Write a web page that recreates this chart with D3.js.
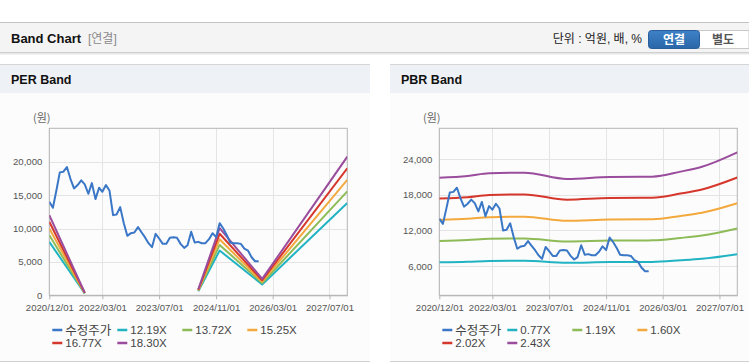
<!DOCTYPE html>
<html>
<head>
<meta charset="utf-8">
<script src="https://cdn.jsdelivr.net/npm/d3@7"></script>
<style>
  html, body { margin: 0; padding: 0; background: #fff; }
  svg { display: block; font-family: "Liberation Sans", Arial, "Noto Sans CJK KR", sans-serif; }
</style>
</head>
<body>
<div id="chart"></div>
<script>
// adjusted price, monthly from 2020/12
const priceStart = "2020-12-01";
const priceValues = [14000, 13100, 15800, 18400, 18500, 19200, 17400, 16000, 16500, 17200,
  16600, 15200, 16800, 14400, 16100, 15500, 16500, 15700, 12000, 12100,
  13200, 10800, 8900, 9300, 9400, 10200, 9400, 8700, 7800, 7200,
  9200, 8500, 7700, 7700, 8600, 8700, 8600, 7700, 7100, 7500,
  9500, 7900, 8000, 7800, 7800, 8400, 9300, 8700, 10800, 10000,
  9000, 7900, 7800, 7800, 7700, 7000, 6700, 5700, 5100, 5100];

// PER band (null = gap)
const perDates = ["2020-12-01", "2021-10-01", "2021-11-01", "2024-06-01", "2024-12-01", "2025-12-01", "2027-12-01"];
const per1219 = [8000, 270, null, 600, 6700, 1630, 13820];
const per1372 = [9000, 300, null, 680, 7540, 1840, 15560];
const per1525 = [10000, 330, null, 750, 8380, 2040, 17290];
const per1677 = [11000, 370, null, 830, 9210, 2250, 19020];
const per1830 = [12000, 400, null, 900, 10050, 2450, 20750];
const perNames = ["수정주가", "12.19X", "13.72X", "15.25X", "16.77X", "18.30X"];

// PBR band
const pbrDates = ["2020-12-01", "2021-08-01", "2022-02-01", "2022-12-01", "2023-12-01", "2024-12-01", "2025-12-01", "2026-08-01", "2027-02-01", "2027-12-01"];
const pbr077 = [6620, 6710, 6850, 6890, 6550, 6660, 6680, 6950, 7210, 7980];
const pbr119 = [10230, 10380, 10590, 10650, 10130, 10290, 10320, 10730, 11140, 12330];
const pbr160 = [13760, 13950, 14240, 14320, 13620, 13840, 13870, 14430, 14980, 16580];
const pbr202 = [17370, 17610, 17980, 18080, 17190, 17470, 17510, 18220, 18910, 20930];
const pbr243 = [20900, 21190, 21630, 21750, 20680, 21020, 21070, 21920, 22750, 25180];
const pbrNames = ["수정주가", "0.77X", "1.19X", "1.60X", "2.02X", "2.43X"];

const xTicks = ["2020-12-01", "2022-03-01", "2023-07-01", "2024-11-01", "2026-03-01", "2027-07-01"];
const perYTicks = [0, 5000, 10000, 15000, 20000];
const pbrYTicks = [6000, 12000, 18000, 24000];

const colors = ["#3a77c6", "#22b3c3", "#8dbb57", "#f3a93e", "#d6372c", "#9a4d9c"];

const W = 749, H = 364;
const parse = d3.utcParse("%Y-%m-%d");
const fmtDate = d3.utcFormat("%Y/%m/%d");
const fmtNum = d3.format(",");

const svg = d3.select("#chart").append("svg")
  .attr("width", W).attr("height", H);

// top header bar
svg.append("rect").attr("x", 0).attr("y", 22).attr("width", W).attr("height", 31).attr("fill", "#f4f4f4");
svg.append("line").attr("x1", 0).attr("x2", W).attr("y1", 22.5).attr("y2", 22.5).attr("stroke", "#c4c4c4");
svg.append("line").attr("x1", 0).attr("x2", W).attr("y1", 52.5).attr("y2", 52.5).attr("stroke", "#cfcfcf");
svg.append("line").attr("x1", 0).attr("x2", W).attr("y1", 53.5).attr("y2", 53.5).attr("stroke", "#e6e6e6");
svg.append("line").attr("x1", 0).attr("x2", W).attr("y1", 54.5).attr("y2", 54.5).attr("stroke", "#f3f3f3");

svg.append("text").attr("x", 11).attr("y", 42.5)
  .attr("font-size", 13).attr("font-weight", "bold").attr("fill", "#111")
  .text("Band Chart");
svg.append("text").attr("x", 88).attr("y", 42.5)
  .attr("font-size", 12).attr("fill", "#8a8a8a")
  .text("[연결]");
svg.append("text").attr("x", 642).attr("y", 42.5).attr("text-anchor", "end")
  .attr("font-size", 12).attr("fill", "#222")
  .text("단위 : 억원, 배, %");

// buttons
svg.append("rect").attr("x", 697).attr("y", 30.5).attr("width", 52).attr("height", 18)
  .attr("fill", "#fff").attr("stroke", "#c8c8c8");
svg.append("text").attr("x", 723).attr("y", 43.5).attr("text-anchor", "middle")
  .attr("font-size", 12).attr("font-weight", "bold").attr("fill", "#555").text("별도");
const grad = svg.append("defs").append("linearGradient").attr("id", "btn").attr("x1", 0).attr("x2", 0).attr("y1", 0).attr("y2", 1);
grad.append("stop").attr("offset", 0).attr("stop-color", "#3f82c8");
grad.append("stop").attr("offset", 1).attr("stop-color", "#2a66a8");
svg.append("rect").attr("x", 648.5).attr("y", 30.5).attr("width", 51).attr("height", 18).attr("rx", 3)
  .attr("fill", "url(#btn)").attr("stroke", "#2a5f9c");
svg.append("text").attr("x", 674).attr("y", 43.5).attr("text-anchor", "middle")
  .attr("font-size", 12).attr("font-weight", "bold").attr("fill", "#fff").text("연결");

function drawPanel(px, pw, title, yDomain, yTicks, bands, bandDates, names, smooth) {
  const g = svg.append("g").attr("transform", `translate(${px},0)`);
  g.append("rect").attr("x", 0).attr("y", 64).attr("width", pw).attr("height", 298).attr("fill", "#fcfcfc");
  g.append("rect").attr("x", 0).attr("y", 64).attr("width", pw).attr("height", 29).attr("fill", "#eef1f6");
  g.append("line").attr("x1", 0).attr("x2", pw).attr("y1", 64.5).attr("y2", 64.5).attr("stroke", "#d6d6d6");
  g.append("line").attr("x1", 0).attr("x2", pw).attr("y1", 361.5).attr("y2", 361.5).attr("stroke", "#d0d0d0");
  g.append("text").attr("x", 11).attr("y", 84)
    .attr("font-size", 12.5).attr("font-weight", "bold").attr("fill", "#111").text(title);

  const left = 49.3, top = 128.3, iw = 298, ih = 167;
  const x = d3.scaleUtc().domain([parse("2020-12-01"), parse("2027-12-01")]).range([left, left + iw]);
  const y = d3.scaleLinear().domain(yDomain).range([top + ih, top]);

  g.append("text").attr("x", 33).attr("y", 121.5).attr("font-size", 11).attr("fill", "#666")
    .attr("font-family", "Noto Sans CJK KR, sans-serif").text("(원)");

  // grid
  g.append("g").selectAll("line").data(yTicks).join("line")
    .attr("x1", left).attr("x2", left + iw)
    .attr("y1", d => Math.round(y(d)) + 0.5).attr("y2", d => Math.round(y(d)) + 0.5)
    .attr("stroke", "#e4e4e4");
  g.append("g").selectAll("line").data(xTicks).join("line")
    .attr("x1", d => Math.round(x(parse(d))) + 0.5).attr("x2", d => Math.round(x(parse(d))) + 0.5)
    .attr("y1", top).attr("y2", top + ih)
    .attr("stroke", "#e4e4e4");
  g.append("rect").attr("x", left).attr("y", top).attr("width", iw).attr("height", ih)
    .attr("fill", "none").attr("stroke", "#b4b4b4");

  // axes
  const xAxis = d3.axisBottom(x).tickValues(xTicks.map(parse)).tickFormat(fmtDate).tickSize(4).tickSizeOuter(0);
  const ax = g.append("g").attr("transform", `translate(0,${top + ih})`).call(xAxis);
  ax.select(".domain").attr("stroke", "#b4b4b4");
  ax.selectAll(".tick line").attr("stroke", "#b4b4b4");
  ax.selectAll("text").attr("font-size", 9.6).attr("fill", "#555").attr("dy", "0.95em")
    .attr("font-family", "Liberation Sans, Arial, sans-serif");

  const yAxis = d3.axisLeft(y).tickValues(yTicks).tickFormat(fmtNum).tickSize(0).tickPadding(7);
  const ay = g.append("g").attr("transform", `translate(${left},0)`).call(yAxis);
  ay.select(".domain").remove();
  ay.selectAll("text").attr("font-size", 9.6).attr("fill", "#555")
    .attr("font-family", "Liberation Sans, Arial, sans-serif");

  const clipId = "clip" + px;
  g.append("clipPath").attr("id", clipId).append("rect")
    .attr("x", left).attr("y", top).attr("width", iw).attr("height", ih);
  const plot = g.append("g").attr("clip-path", `url(#${clipId})`);

  const bandLine = d3.line()
    .defined(d => d.v !== null)
    .x(d => x(d.date)).y(d => y(d.v))
    .curve(smooth ? d3.curveMonotoneX : d3.curveLinear);
  bands.forEach((vals, i) => {
    const pts = vals.map((v, j) => ({ date: parse(bandDates[j]), v }));
    plot.append("path").datum(pts)
      .attr("fill", "none").attr("stroke", colors[i + 1]).attr("stroke-width", 2)
      .attr("stroke-linejoin", "round").attr("d", bandLine);
  });

  const start = parse(priceStart);
  const pricePts = priceValues.map((v, j) => ({ date: d3.utcMonth.offset(start, j), v }));
  plot.append("path").datum(pricePts)
    .attr("fill", "none").attr("stroke", colors[0]).attr("stroke-width", 2)
    .attr("stroke-linejoin", "round").attr("d", bandLine.curve(d3.curveLinear));

  // legend
  const leg = g.append("g").selectAll("g").data(names).join("g")
    .attr("transform", (d, i) => `translate(${left + 3 + (i % 4) * 65},${i < 4 ? 330 : 343})`);
  leg.append("line").attr("x1", 0).attr("x2", 10).attr("y1", 0).attr("y2", 0)
    .attr("stroke", (d, i) => colors[i]).attr("stroke-width", 2.5);
  leg.append("text").attr("x", 13).attr("y", 0).attr("dy", "0.36em")
    .attr("font-size", (d, i) => i === 0 ? 12.5 : 11.5).attr("fill", "#444").text(d => d);
}

drawPanel(0, 370, "PER Band", [0, 25000], perYTicks,
  [per1219, per1372, per1525, per1677, per1830], perDates, perNames, false);
drawPanel(390, 359, "PBR Band", [1050, 29230], pbrYTicks,
  [pbr077, pbr119, pbr160, pbr202, pbr243], pbrDates, pbrNames, true);
</script>
</body>
</html>
